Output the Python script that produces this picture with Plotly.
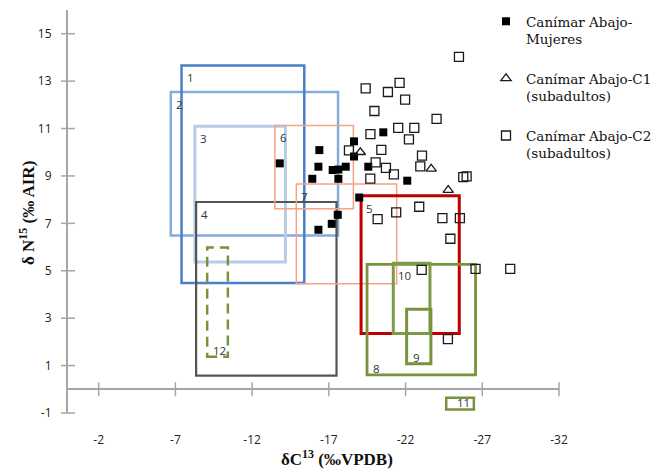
import plotly.graph_objects as go

# ---------------- data ----------------
mujeres_x = [-13.8, -16.38, -16.32, -15.92, -17.25, -17.62, -17.62, -18.1, -18.64, -18.64,
             -19.57, -20.55, -22.11, -18.98, -17.58, -17.19, -16.32]
mujeres_y = [9.53, 10.09, 9.39, 8.88, 9.25, 9.27, 8.88, 9.39, 10.46, 9.82,
             9.39, 10.84, 8.8, 8.09, 7.36, 6.98, 6.73]

c1_x = [-19.05, -23.67, -24.78]
c1_y = [10.0, 9.3, 8.4]

c2_x = [-25.48, -19.40, -20.85, -21.61, -21.97, -19.97, -24.02, -21.52, -22.57, -19.71,
        -22.22, -18.31, -20.42, -23.07, -20.05, -20.72, -21.24, -22.96, -19.7, -25.76,
        -25.98, -21.39, -22.89, -20.18, -24.4, -25.54, -24.92, -23.05, -26.56, -28.82, -24.76]
c2_y = [14.02, 12.69, 12.54, 12.93, 12.22, 11.74, 11.41, 11.03, 11.03, 10.76,
        10.54, 10.08, 10.1, 9.86, 9.57, 9.34, 9.07, 9.4, 8.89, 8.95,
        8.98, 7.46, 7.7, 7.18, 7.22, 7.22, 6.35, 5.04, 5.08, 5.08, 2.12]

# reference ranges (boxes) 1..12
box_ids = ["1", "2", "3", "4", "5", "6", "7", "8", "9", "10", "11", "12"]
box_c_min = [-7.4, -6.7, -8.27, -8.35, -19.1, -13.48, -14.88, -19.49, -22.07, -21.2, -24.65, -9.07]
box_c_max = [-15.4, -17.6, -14.17, -17.5, -25.5, -18.6, -21.42, -26.56, -23.65, -23.59, -26.45, -10.42]
box_n_min = [4.48, 6.49, 5.37, 0.58, 2.35, 7.62, 4.45, 0.61, 1.08, 2.35, -0.85, 1.37]
box_n_max = [13.66, 12.54, 11.1, 7.9, 8.16, 11.13, 8.66, 5.27, 3.38, 5.32, -0.36, 5.98]

x_ticks = [-2, -7, -12, -17, -22, -27, -32]
y_ticks = [-1, 1, 3, 5, 7, 9, 11, 13, 15]
x_tick_labels = ["-2", "-7", "-12", "-17", "-22", "-27", "-32"]
y_tick_labels = ["-1", "1", "3", "5", "7", "9", "11", "13", "15"]

# ---------------- styles ----------------
box_colors = ["#4a7fc9", "#86abdd", "#b7cce8", "#555555", "#c00000", "#f6a283", "#f6a283",
              "#77933c", "#77933c", "#7f9a47", "#77933c", "#77933c"]
box_widths = [2.5, 2.5, 3, 2.2, 3, 1.5, 1.5, 2.8, 3, 3, 2.5, 2.5]
box_dash = ["solid"] * 11 + ["10px,6px"]
label_corner = ["tl", "tl", "tl", "tl", "tl", "tl", "tl", "bl", "bl", "tl", "br", "bl"]
draw_order = [1, 0, 2, 3, 5, 6, 4, 7, 9, 8, 10, 11]

AXIS = "#a6a6a6"
TICKFONT = dict(family="Open Sans", size=12, color="#222222")
LABELFONT = dict(family="Open Sans", size=11.5, color="#333333")

# page body has an 8px margin; figure sized so the plot area lands where the reference has it
OFF = 8
W, H = 662 - OFF, 469 - OFF
ML, MR, MT, MB = 68 - OFF, 103, 10 - OFF, 56
PW, PH = W - ML - MR, H - MT - MB

fig = go.Figure()

shapes = []
annotations = []
for i in draw_order:
    shapes.append(dict(type="rect", xref="x", yref="y",
                       x0=box_c_min[i], x1=box_c_max[i], y0=box_n_min[i], y1=box_n_max[i],
                       line=dict(color=box_colors[i], width=box_widths[i], dash=box_dash[i]),
                       fillcolor="rgba(0,0,0,0)", layer="below"))
for i in range(len(box_ids)):
    corner = label_corner[i]
    if corner == "tl":
        annotations.append(dict(x=box_c_min[i], y=box_n_max[i], text=box_ids[i], showarrow=False,
                                xanchor="left", yanchor="top", xshift=3, yshift=-3,
                                font=LABELFONT))
    elif corner == "bl":
        annotations.append(dict(x=box_c_min[i], y=box_n_min[i], text=box_ids[i], showarrow=False,
                                xanchor="left", yanchor="bottom", xshift=4, yshift=-3,
                                font=LABELFONT))
    else:
        annotations.append(dict(x=box_c_max[i], y=box_n_min[i], text=box_ids[i], showarrow=False,
                                xanchor="right", yanchor="bottom", xshift=-2, yshift=-3,
                                font=LABELFONT))

# tick marks crossing the axes
fig.add_trace(go.Scatter(x=x_ticks, y=[0] * len(x_ticks), mode="markers",
                         marker=dict(symbol="line-ns", size=10, line=dict(color=AXIS, width=1.5)),
                         showlegend=False, hoverinfo="skip", cliponaxis=False))
fig.add_trace(go.Scatter(x=[0] * len(y_ticks), y=y_ticks, mode="markers",
                         marker=dict(symbol="line-ew", size=10, line=dict(color=AXIS, width=1.5)),
                         showlegend=False, hoverinfo="skip", cliponaxis=False))

fig.add_trace(go.Scatter(x=mujeres_x, y=mujeres_y, mode="markers",
                         name="Canímar Abajo-<br>Mujeres",
                         marker=dict(symbol="square", size=8, color="black"),
                         legendgroup="a"))
fig.add_trace(go.Scatter(x=c1_x, y=c1_y, mode="markers",
                         name="Canímar Abajo-C1<br>(subadultos)",
                         marker=dict(symbol="triangle-up-open", size=9, color="#1a1a1a",
                                     line=dict(width=1.3)),
                         legendgroup="b"))
fig.add_trace(go.Scatter(x=c2_x, y=c2_y, mode="markers",
                         name="Canímar Abajo-C2<br>(subadultos)",
                         marker=dict(symbol="square-open", size=9, color="#1a1a1a",
                                     line=dict(width=1.3)),
                         legendgroup="c"))

annotations.append(dict(xref="paper", yref="paper", x=(336.5 - 68) / PW, y=-(458 - 413) / PH,
                        text="<b>δC<sup>13</sup> (‰VPDB)</b>", showarrow=False,
                        xanchor="center", yanchor="middle",
                        font=dict(family="Liberation Serif", size=17, color="#111111")))
annotations.append(dict(xref="paper", yref="paper", x=-(68 - 27) / PW, y=(413 - 213) / PH,
                        text="<b>δ N<sup>15</sup> (‰ AIR)</b>", showarrow=False, textangle=-90,
                        xanchor="center", yanchor="middle",
                        font=dict(family="Liberation Serif", size=17, color="#111111")))

fig.update_layout(
    width=W, height=H,
    margin=dict(l=ML, r=MR, t=MT, b=MB, pad=0, autoexpand=False),
    paper_bgcolor="white", plot_bgcolor="white",
    shapes=shapes, annotations=annotations,
    showlegend=True,
    legend=dict(x=(486 - 68) / PW, y=1.0 + 4 / PH, xanchor="left", yanchor="top",
                font=dict(family="DejaVu Serif", size=13.5, color="#111111"),
                tracegroupgap=19, valign="top", bgcolor="rgba(0,0,0,0)"),
    xaxis=dict(range=[0, -32], tickvals=x_ticks, ticktext=x_tick_labels,
               showgrid=False, zeroline=False,
               showline=False, ticks="", tickfont=TICKFONT, ticklabelstandoff=18,
               automargin=False),
    yaxis=dict(range=[-1, 16], tickvals=y_ticks, ticktext=y_tick_labels, showgrid=False,
               zeroline=True, zerolinecolor=AXIS, zerolinewidth=2,
               showline=True, linecolor=AXIS, linewidth=2, mirror=False,
               ticks="", tickfont=TICKFONT, ticklabelstandoff=12, automargin=False),
)

fig.write_html("out.html")
